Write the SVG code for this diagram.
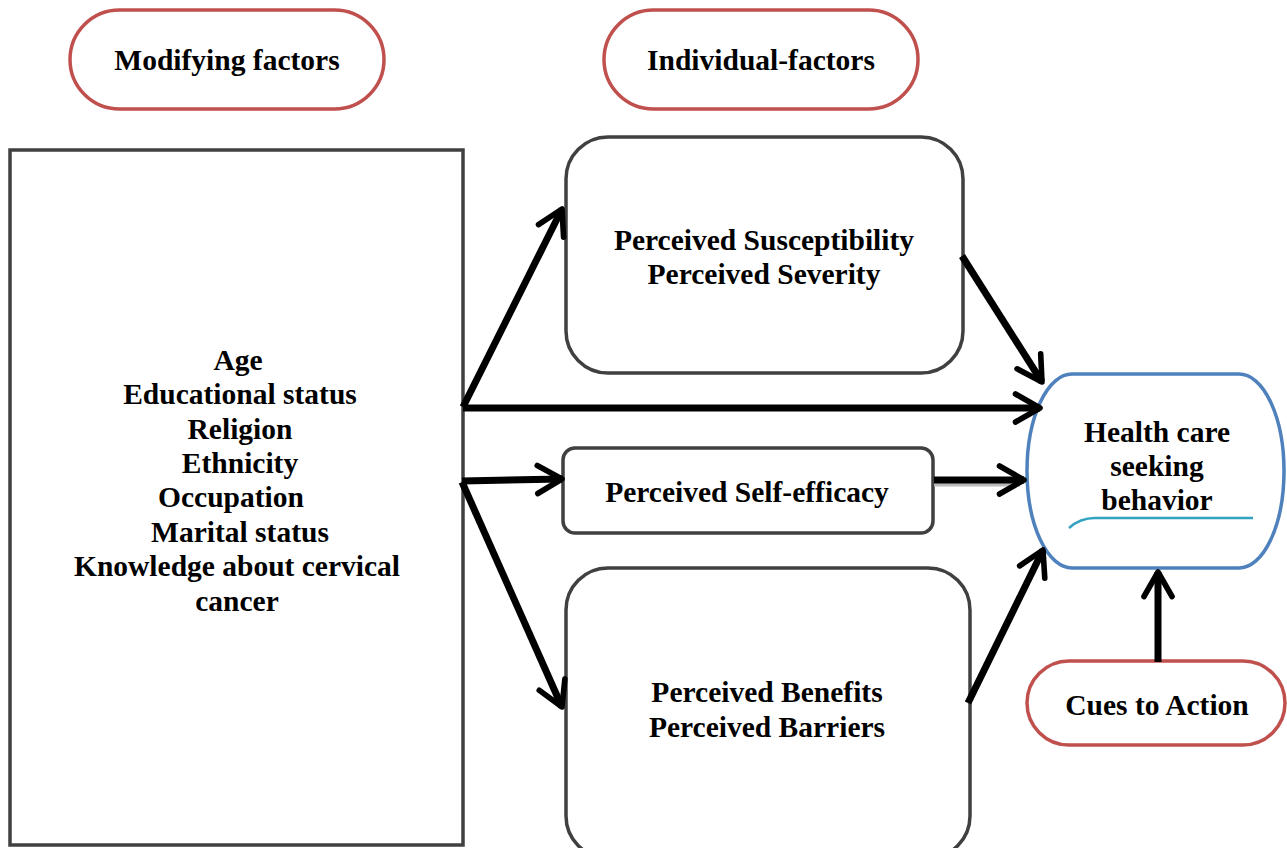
<svg xmlns="http://www.w3.org/2000/svg" width="1287" height="848" viewBox="0 0 1287 848">
<defs>
<style>
.t{font-family:"Liberation Serif","Times New Roman",serif;font-weight:bold;font-size:29.5px;fill:#000;text-anchor:middle}
.pill{fill:#fff;stroke:#c0504d;stroke-width:3.5}
.box{fill:#fff;stroke:#404040;stroke-width:3.5}
.arr{fill:none;stroke:#000;stroke-width:7;marker-end:url(#ah)}
</style>
<marker id="ah" viewBox="0 0 10 10" refX="8.5" refY="5" markerWidth="5" markerHeight="5" orient="auto" markerUnits="strokeWidth">
<path d="M1.5,1 L8.5,5 L1.5,9" fill="none" stroke="#000" stroke-width="1.6" stroke-linecap="round" stroke-linejoin="round"/>
</marker>
</defs>
<rect width="1287" height="848" fill="#fff"/>
<g id="modifying-factors">
<rect class="pill" x="70" y="10" width="314" height="99" rx="49.5"/>
<text class="t" x="227" y="70">Modifying factors</text>
</g>
<g id="individual-factors">
<rect class="pill" x="604" y="10" width="314" height="99" rx="49.5"/>
<text class="t" x="761" y="70">Individual-factors</text>
</g>
<g id="modifying-list">
<rect class="box" x="10" y="150" width="453" height="695" rx="0"/>
<text class="t" x="238" y="370">Age</text>
<text class="t" x="240" y="404">Educational status</text>
<text class="t" x="240" y="439">Religion</text>
<text class="t" x="240" y="473">Ethnicity</text>
<text class="t" x="231" y="507">Occupation</text>
<text class="t" x="240" y="542">Marital status</text>
<text class="t" x="237" y="576">Knowledge about cervical</text>
<text class="t" x="237" y="611">cancer</text>
</g>
<g id="susceptibility-severity">
<rect class="box" x="566" y="137" width="397" height="236" rx="42"/>
<text class="t" x="764" y="250">Perceived Susceptibility</text>
<text class="t" x="764" y="284">Perceived Severity</text>
</g>
<g id="self-efficacy">
<rect class="box" x="563" y="448" width="370" height="85" rx="12"/>
<text class="t" x="747" y="502">Perceived Self-efficacy</text>
</g>
<g id="benefits-barriers">
<rect class="box" x="566" y="568" width="404" height="290" rx="42"/>
<text class="t" x="767" y="702">Perceived Benefits</text>
<text class="t" x="767" y="737">Perceived Barriers</text>
</g>
<g id="health-care">
<rect x="1027" y="374" width="257" height="194" rx="45" ry="97" fill="#fff" stroke="#4f81bd" stroke-width="3.5"/>
<text class="t" x="1157" y="442">Health care</text>
<text class="t" x="1157" y="476">seeking</text>
<text class="t" x="1157" y="510">behavior</text>
<path d="M1069,528 Q1080,518 1095,518 L1253,518" fill="none" stroke="#31a3c0" stroke-width="2.5"/>
</g>
<g id="cues">
<rect class="pill" x="1027" y="661" width="258" height="84" rx="42"/>
<text class="t" x="1157" y="715">Cues to Action</text>
</g>
<g id="connectors">
<line class="arr" x1="463" y1="407" x2="562" y2="209"/>
<line class="arr" x1="463" y1="408" x2="1040" y2="408"/>
<line class="arr" x1="462" y1="481" x2="562" y2="479"/>
<line class="arr" x1="462" y1="482" x2="562" y2="707"/>
<line class="arr" x1="962" y1="256" x2="1042" y2="382"/>
<line x1="934" y1="484" x2="1020" y2="484" stroke="#bbb" stroke-width="5"/>
<line class="arr" x1="934" y1="480" x2="1024" y2="480"/>
<line class="arr" x1="968" y1="703" x2="1043" y2="550"/>
<line class="arr" x1="1158" y1="662" x2="1158" y2="572"/>
</g>
</svg>
